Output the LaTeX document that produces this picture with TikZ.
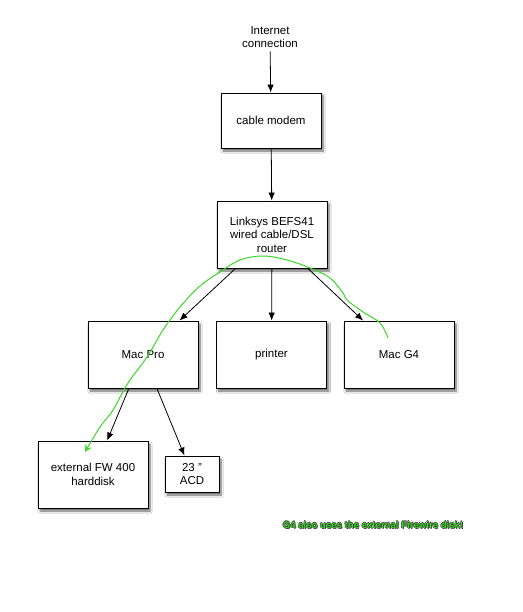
\documentclass[tikz,border=0pt]{standalone}
\usepackage{fontspec}
\setmainfont{Liberation Sans}
\usetikzlibrary{arrows.meta,shadows.blur}
\definecolor{markgreen}{RGB}{60,215,40}
\tikzset{
  devbox/.style={draw, fill=white, line width=0.9pt, align=center,
    font=\fontsize{11.5}{13.5}\selectfont,
    blur shadow={shadow xshift=2pt, shadow yshift=-3pt, shadow blur steps=6, shadow opacity=60}},
  link/.style={-{Latex[length=8pt,width=6.5pt]}, line width=0.8pt},
  notetext/.style={font=\bfseries\fontsize{9.6}{11}\selectfont}
}
\begin{document}
\begin{tikzpicture}[x=1pt, y=-1pt]
		\useasboundingbox[fill=white] (0,0) rectangle (522,612);
		
		% Internet side
		\node[align=center, font=\fontsize{11.5}{13.5}\selectfont] (inet) at (270,37) {Internet\\connection};
		\node[devbox, minimum width=100pt, minimum height=55pt] (modem) at (271,120.5) {cable modem};
		\node[devbox, minimum width=110pt, minimum height=67pt] (router) at (272,234.5) {Linksys BEFS41\\wired cable/DSL\\router};
		
		% Machines
		\node[devbox, minimum width=110pt, minimum height=67pt] (macpro) at (143,354.5) {Mac Pro};
		\node[devbox, minimum width=110pt, minimum height=67pt] (printer) at (271.5,354.5) {printer};
		\node[devbox, minimum width=110pt, minimum height=67pt] (macg4) at (399,354.5) {Mac G4};
		\node[devbox, minimum width=110pt, minimum height=67pt] (fwdisk) at (93,474.5) {external FW 400\\harddisk};
		\node[devbox, minimum width=54pt, minimum height=36pt] (acd) at (192,474) {23 "\\ACD};
		
		% Connections
		\draw[link] (inet) -- (modem);
		\draw[link] (modem) -- (router);
		\draw[link] (router) -- (macpro);
		\draw[link] (router) -- (printer);
		\draw[link] (router) -- (macg4);
		\draw[link] (macpro) -- (fwdisk);
		\draw[link] (macpro) -- (acd);
		
		% Hand-drawn note
		\coordinate (g4mark) at (388,338);
		\draw[markgreen, line width=1pt, -{Stealth[length=7pt,width=7pt]}] plot[smooth, tension=0.6] coordinates {
			(g4mark) (380,323) (363,312) (347,300) (343,293) (330,278) (310,268) (287,260) (263,256)
			(240,260) (220,272) (200,286) (180,307) (163,330) (147,357) (128,383) (113,410) (100,427) (85,452)};
		\foreach \dx/\dy in {-0.6/0,0.6/0,0/-0.6,0.8/1}
			\node[notetext, text=black!85, opacity=0.85] at (373+\dx,525+\dy) {G4 also uses the external Firewire disk!};
		\node[notetext, text=markgreen] (note) at (373,525) {G4 also uses the external Firewire disk!};
	\end{tikzpicture}
\end{document}
